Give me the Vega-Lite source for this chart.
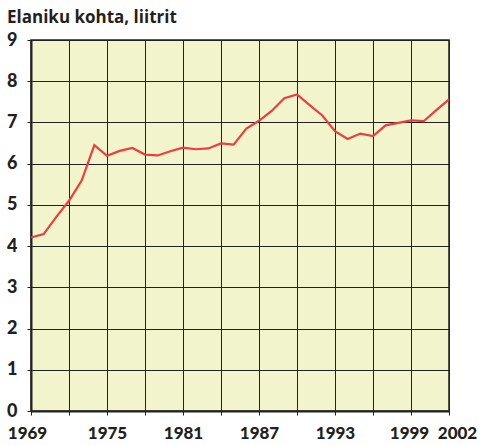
{
  "$schema": "https://vega.github.io/schema/vega-lite/v6.json",
  "width": 418,
  "height": 371,
  "autosize": "none",
  "padding": {"left": 31, "top": 40, "right": 31, "bottom": 34},
  "background": "white",
  "title": {
    "text": "Elaniku kohta, liitrit",
    "anchor": "start",
    "frame": "group",
    "dx": -24,
    "offset": -9,
    "baseline": "alphabetic",
    "font": "Open Sans",
    "fontSize": 17,
    "fontWeight": "bold",
    "color": "#231F20"
  },
  "config": {
    "view": {"fill": "#F2F4CB", "stroke": "#222222", "strokeWidth": 1.5}
  },
  "data": {
    "values": [
      {"year": 1969, "value": 4.21},
      {"year": 1970, "value": 4.29},
      {"year": 1971, "value": 4.71},
      {"year": 1972, "value": 5.10},
      {"year": 1973, "value": 5.59},
      {"year": 1974, "value": 6.45},
      {"year": 1975, "value": 6.19},
      {"year": 1976, "value": 6.31},
      {"year": 1977, "value": 6.38},
      {"year": 1978, "value": 6.22},
      {"year": 1979, "value": 6.20},
      {"year": 1980, "value": 6.30},
      {"year": 1981, "value": 6.39},
      {"year": 1982, "value": 6.35},
      {"year": 1983, "value": 6.37},
      {"year": 1984, "value": 6.49},
      {"year": 1985, "value": 6.46},
      {"year": 1986, "value": 6.85},
      {"year": 1987, "value": 7.04},
      {"year": 1988, "value": 7.28},
      {"year": 1989, "value": 7.59},
      {"year": 1990, "value": 7.68},
      {"year": 1991, "value": 7.42},
      {"year": 1992, "value": 7.17},
      {"year": 1993, "value": 6.79},
      {"year": 1994, "value": 6.60},
      {"year": 1995, "value": 6.73},
      {"year": 1996, "value": 6.67},
      {"year": 1997, "value": 6.93},
      {"year": 1998, "value": 6.99},
      {"year": 1999, "value": 7.05},
      {"year": 2000, "value": 7.03},
      {"year": 2001, "value": 7.30},
      {"year": 2002, "value": 7.56}
    ]
  },
  "mark": {"type": "line", "color": "#EE3D40", "strokeWidth": 2.2},
  "encoding": {
    "x": {
      "field": "year",
      "type": "quantitative",
      "scale": {"domain": [1969, 2002], "nice": false, "zero": false},
      "axis": {
        "title": null,
        "values": [1969, 1972, 1975, 1978, 1981, 1984, 1987, 1990, 1993, 1996, 1999, 2002],
        "labelExpr": "indexof([1969,1975,1981,1987,1993,1999,2002], datum.value) >= 0 ? '' + datum.value : ''",
        "labelFlush": false,
        "labelOverlap": false,
        "labelBound": false,
        "labelFont": "Lato",
        "labelFontSize": 17,
        "labelFontWeight": 900,
        "labelColor": "#231F20",
        "labelPadding": 10,
        "labelOffset": {
          "condition": [
            {"test": "datum.value == 2002", "value": 8},
            {"test": "datum.value == 1999", "value": -2},
            {"test": "datum.value == 1969", "value": -4}
          ],
          "value": 0
        },
        "tickSize": 4,
        "tickColor": "#222222",
        "domainColor": "#222222",
        "domainWidth": 2,
        "grid": true,
        "gridColor": "#222222",
        "gridOpacity": 1,
        "gridWidth": 1
      }
    },
    "y": {
      "field": "value",
      "type": "quantitative",
      "scale": {"domain": [0, 9], "nice": false},
      "axis": {
        "title": null,
        "values": [0, 1, 2, 3, 4, 5, 6, 7, 8, 9],
        "labelFont": "Lato",
        "labelFontSize": 18,
        "labelFontWeight": 900,
        "labelColor": "#231F20",
        "labelPadding": 10,
        "labelBound": false,
        "labelFlush": false,
        "tickSize": 4,
        "tickColor": "#222222",
        "domainColor": "#222222",
        "domainWidth": 2,
        "grid": true,
        "gridColor": "#222222",
        "gridOpacity": 1,
        "gridWidth": 1
      }
    }
  }
}
